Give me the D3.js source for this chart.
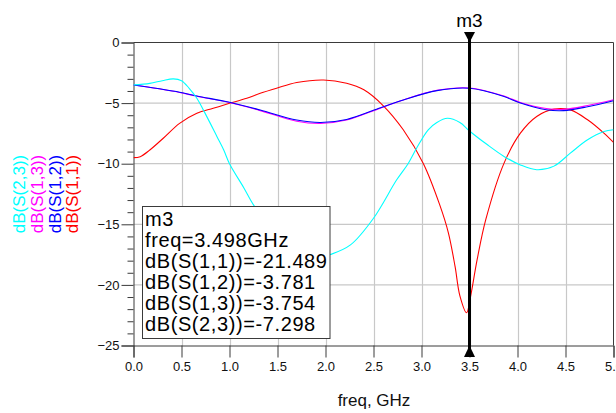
<!DOCTYPE html>
<html>
<head>
<meta charset="utf-8">
<script src="https://cdn.jsdelivr.net/npm/d3@7"></script>
<style>
  html, body { margin: 0; padding: 0; background: #fff; }
  svg { display: block; font-family: "Liberation Sans", Arial, sans-serif; }
</style>
</head>
<body>
<svg id="chart" width="616" height="413"></svg>
<script>
// ---- data ----
const xTicks = [0, 0.5, 1.0, 1.5, 2.0, 2.5, 3.0, 3.5, 4.0, 4.5, 5.0];
const yTicks = [0, -5, -10, -15, -20, -25];

const s11Freq = [0, 0.07, 0.17, 0.31, 0.48, 0.66, 0.83, 1.0, 1.18, 1.32, 1.49, 1.7, 1.98, 2.22, 2.4, 2.6, 2.81, 3.02, 3.19, 3.28, 3.35, 3.40, 3.47, 3.51, 3.58, 3.67, 3.86, 4.03, 4.2, 4.38, 4.55, 4.73, 4.9, 5.0];
const s11dB   = [-9.5, -9.42, -8.87, -7.9, -6.67, -5.84, -5.43, -5.02, -4.6, -4.19, -3.77, -3.3, -3.09, -3.36, -3.9, -5.2, -7.2, -10.0, -13.4, -15.7, -18.5, -20.9, -22.3, -21.0, -17.9, -14.6, -9.95, -7.48, -6.1, -5.5, -5.56, -6.38, -7.48, -8.25];

const s12Freq = [0, 0.25, 0.48, 0.66, 1.0, 1.32, 1.7, 1.95, 2.22, 2.55, 2.81, 3.16, 3.5, 3.86, 4.03, 4.3, 4.48, 4.73, 5.0];
const s12dB   = [-3.5, -3.8, -4.1, -4.41, -4.93, -5.57, -6.4, -6.6, -6.35, -5.45, -4.74, -3.97, -3.78, -4.46, -5.0, -5.55, -5.62, -5.3, -4.8];

const s13Freq = [0, 0.25, 0.48, 0.66, 1.0, 1.32, 1.7, 1.95, 2.22, 2.55, 2.81, 3.16, 3.5, 3.86, 4.03, 4.3, 4.48, 4.73, 5.0];
const s13dB   = [-3.5, -3.8, -4.12, -4.44, -4.95, -5.62, -6.5, -6.68, -6.4, -5.48, -4.74, -3.95, -3.75, -4.42, -4.95, -5.45, -5.52, -5.2, -4.72];

const s23Freq = [0, 0.17, 0.3, 0.415, 0.5, 0.58, 0.66, 0.73, 0.87, 0.94, 1.0, 1.15, 1.25, 1.4, 1.5, 1.6, 1.7, 1.8, 1.9, 2.05, 2.26, 2.5, 2.74, 2.86, 2.95, 3.07, 3.16, 3.27, 3.4, 3.5, 3.68, 3.86, 4.03, 4.2, 4.38, 4.55, 4.73, 4.9, 5.0];
const s23dB   = [-3.5, -3.37, -3.15, -3.0, -3.15, -3.78, -4.6, -5.6, -7.77, -8.87, -10.0, -12.0, -13.4, -15.0, -15.9, -16.7, -17.3, -17.7, -17.8, -17.5, -16.7, -14.5, -11.35, -10.0, -8.7, -7.2, -6.6, -6.25, -6.6, -7.3, -8.4, -9.4, -10.1, -10.5, -10.2, -9.13, -8.03, -7.35, -7.2];

const legendNames  = ["dB(S(2,3))", "dB(S(1,3))", "dB(S(1,2))", "dB(S(1,1))"];
const legendColors = ["#00ffff", "#ff00ff", "#0000ff", "#ff0000"];

const markerName = "m3";
const markerFreq = 3.498;
const markerLines = ["m3", "freq=3.498GHz", "dB(S(1,1))=-21.489", "dB(S(1,2))=-3.781", "dB(S(1,3))=-3.754", "dB(S(2,3))=-7.298"];

const xLabel = "freq, GHz";

// ---- layout ----
const svg = d3.select("#chart");
const x = d3.scaleLinear().domain([0, 5]).range([133.5, 613.5]);
const y = d3.scaleLinear().domain([-25, 0]).range([345.5, 42.5]);
const axisColor = "#3a3a3a";
const gridColor = "#c8c8c8";

// clip
svg.append("defs").append("clipPath").attr("id", "plotclip")
  .append("rect").attr("x", x(0)).attr("y", y(0))
  .attr("width", x(5) - x(0)).attr("height", y(-25) - y(0));

// grid
const grid = svg.append("g");
grid.selectAll("line.v").data(xTicks.filter(d => d > 0 && d < 5)).enter().append("line")
  .attr("x1", d => Math.round(x(d)) + 0.5).attr("x2", d => Math.round(x(d)) + 0.5)
  .attr("y1", y(0)).attr("y2", y(-25))
  .attr("stroke", gridColor).attr("stroke-width", 1.2);
grid.selectAll("line.h").data(yTicks.filter(d => d < 0 && d > -25)).enter().append("line")
  .attr("y1", d => y(d)).attr("y2", d => y(d))
  .attr("x1", x(0)).attr("x2", x(5))
  .attr("stroke", gridColor).attr("stroke-width", 1.2);

// y axis (left) with minor ticks
const yAxis = d3.axisLeft(y).tickValues(yTicks).tickSize(12).tickPadding(2).tickFormat(d3.format("d"));
const gy = svg.append("g").attr("transform", `translate(${x(0)},0)`).call(yAxis);
gy.select(".domain").attr("stroke", axisColor);
gy.selectAll(".tick line").attr("stroke", axisColor);
gy.selectAll(".tick text").attr("font-size", 13).attr("fill", "#111")
  .attr("font-family", "Liberation Sans, Arial, sans-serif");
const yMinor = d3.axisLeft(y).tickValues(d3.range(-25, 1, 1).filter(v => v % 5 !== 0)).tickSize(6).tickFormat("");
const gym = svg.append("g").attr("transform", `translate(${x(0)},0)`).call(yMinor);
gym.select(".domain").remove();
gym.selectAll(".tick line").attr("stroke", axisColor);

// x axis (bottom)
const xAxis = d3.axisBottom(x).tickValues(xTicks).tickSize(12).tickPadding(4).tickFormat(d3.format(".1f"));
const gx = svg.append("g").attr("transform", `translate(0,${y(-25)})`).call(xAxis);
gx.select(".domain").attr("stroke", axisColor);
gx.selectAll(".tick line").attr("stroke", axisColor);
gx.selectAll(".tick text").attr("font-size", 13).attr("fill", "#111")
  .attr("font-family", "Liberation Sans, Arial, sans-serif");

// frame top/right
svg.append("line").attr("x1", x(0)).attr("x2", x(5)).attr("y1", y(0)).attr("y2", y(0)).attr("stroke", axisColor);
svg.append("line").attr("x1", x(5)).attr("x2", x(5)).attr("y1", y(0)).attr("y2", y(-25)).attr("stroke", axisColor);

// curves
const line = d3.line().x(d => x(d[0])).y(d => y(d[1])).curve(d3.curveCatmullRom.alpha(0.5));
const series = [
  { f: s11Freq, v: s11dB, c: "#ff0000" },
  { f: s13Freq, v: s13dB, c: "#ff00ff" },
  { f: s12Freq, v: s12dB, c: "#0000ff" },
  { f: s23Freq, v: s23dB, c: "#00ffff" }
];
const curves = svg.append("g").attr("clip-path", "url(#plotclip)");
series.forEach(s => {
  curves.append("path").datum(d3.zip(s.f, s.v))
    .attr("d", line).attr("fill", "none").attr("stroke", s.c).attr("stroke-width", 1.1);
});

// marker readout box
const box = svg.append("g");
box.append("rect").attr("x", 142.5).attr("y", 206.5).attr("width", 187.5).attr("height", 132)
  .attr("fill", "#fff").attr("stroke", axisColor).attr("stroke-width", 1);
box.selectAll("text").data(markerLines).enter().append("text")
  .attr("x", 145).attr("y", (d, i) => 226 + i * 21)
  .attr("font-size", 20).attr("letter-spacing", "0.6px").attr("fill", "#000")
  .text(d => d);

// marker line & triangles
const mx = Math.round(x(markerFreq)) + 0.5;
svg.append("line").attr("x1", mx).attr("x2", mx).attr("y1", 33).attr("y2", 356)
  .attr("stroke", "#000").attr("stroke-width", 3);
svg.append("path").attr("d", `M${mx - 5.5},32 L${mx + 5.5},32 L${mx},${y(0)} Z`).attr("fill", "#000");
svg.append("path").attr("d", `M${mx - 5.5},357 L${mx + 5.5},357 L${mx},${y(-25)} Z`).attr("fill", "#000");
svg.append("text").attr("x", mx).attr("y", 27).attr("text-anchor", "middle")
  .attr("font-size", 19).attr("fill", "#000").text(markerName);

// x axis title
svg.append("text").attr("x", 374).attr("y", 406).attr("text-anchor", "middle")
  .attr("font-size", 17).attr("fill", "#111").text(xLabel);

// vertical legend
const legendX = [24.5, 42.5, 60.5, 78];
legendNames.forEach((n, i) => {
  svg.append("text")
    .attr("transform", `translate(${legendX[i]},194) rotate(-90)`)
    .attr("text-anchor", "middle").attr("font-size", 17)
    .attr("fill", legendColors[i]).text(n);
});
</script>
</body>
</html>
